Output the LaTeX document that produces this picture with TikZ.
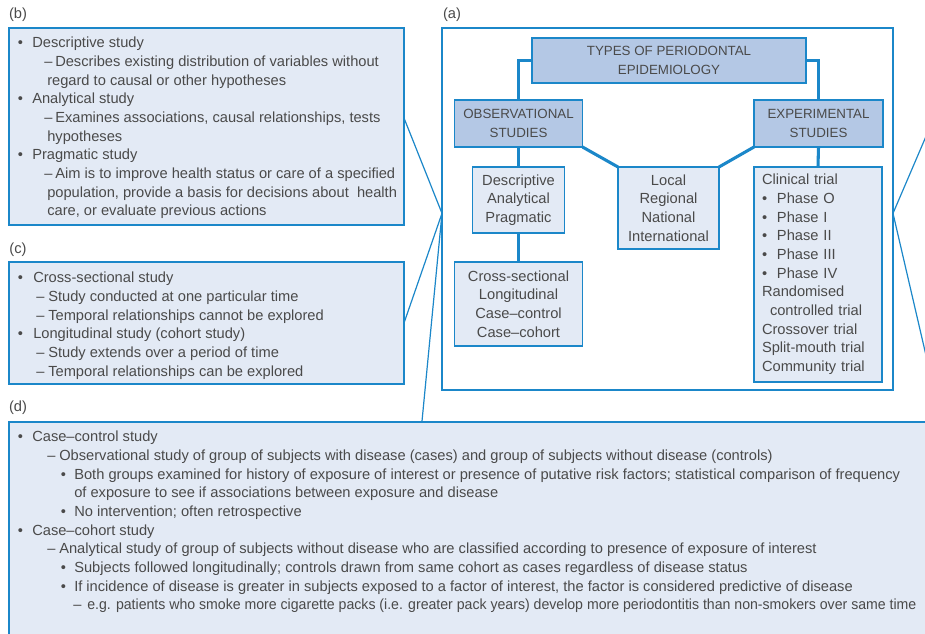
\documentclass[tikz,border=0pt]{standalone}
\usepackage{fontspec}
\usepackage{graphicx}
\setmainfont{Liberation Sans}
\usetikzlibrary{calc,backgrounds}
\definecolor{bl}{HTML}{1B87C9}
\definecolor{lf}{HTML}{E3EAF5}
\definecolor{mf}{HTML}{B4C8E5}
\definecolor{tx}{HTML}{4A4A4A}
\newlength\px \setlength\px{0.75pt}
\newcommand\Ind[3]{\hspace*{#1\px}\makebox[#2\px][l]{#3}}
\tikzset{
 box/.style={draw=bl, line width=1.1pt, fill=lf, inner sep=0pt, outer sep=0pt},
 hbox/.style={draw=bl, line width=1.1pt, fill=mf, text=tx, align=center, font=\fontsize{10pt}{14.2pt}\selectfont, inner sep=0pt, outer sep=0pt},
 lbox/.style={draw=bl, line width=1.1pt, fill=lf, text=tx, align=center, font=\fontsize{11pt}{14pt}\selectfont, inner sep=0pt, outer sep=0pt},
 body/.style={text=tx, align=left, font=\fontsize{11pt}{14pt}\selectfont, inner sep=0pt, anchor=north west},
 conn/.style={draw=bl, line width=2.3pt},
 call/.style={draw=bl, line width=0.9pt},
 lab/.style={text=tx, font=\fontsize{11pt}{14pt}\selectfont, inner sep=0pt},
}
\begin{document}
\begin{tikzpicture}[x=0.75pt,y=-0.75pt]
\useasboundingbox (0,0) rectangle (925,633);
\begin{scope}
\clip (0,0) rectangle (925,633);
% outer boxes
\node[box, minimum width=395\px, minimum height=197\px, anchor=north west] (b) at (9,28) {};
\node[box, minimum width=395\px, minimum height=122\px, anchor=north west] (c) at (9,262) {};
\node[box, minimum width=930\px, minimum height=230\px, anchor=north west] (d) at (9,422) {};
\node[draw=bl, line width=1pt, minimum width=451\px, minimum height=362\px, anchor=north west, inner sep=0pt, outer sep=0pt] (a) at (442,28) {};
% labels
\node[lab] (la) at (452,15) {(a)};
\node[lab] (lb) at (18,15) {(b)};
\node[lab] (lc) at (18,250) {(c)};
\node[lab] (ld) at (18,408) {(d)};
% (a) contents
\node[hbox, minimum width=274\px, minimum height=45\px] (title) at (669,60.5) {TYPES OF PERIODONTAL\\EPIDEMIOLOGY};
\node[hbox, minimum width=128\px, minimum height=47\px] (obs) at (518.5,123.5) {OBSERVATIONAL\\STUDIES};
\node[hbox, minimum width=129\px, minimum height=47\px] (exp) at (818.5,123.5) {EXPERIMENTAL\\STUDIES};
\node[lbox, minimum width=101\px, minimum height=82\px] (loc) at (668.5,208) {Local\\Regional\\National\\International};
\node[lbox, minimum width=92\px, minimum height=66\px] (desc) at (518.5,200) {Descriptive\\Analytical\\Pragmatic};
\node[lbox, minimum width=128\px, minimum height=84\px] (cross) at (518.5,304) {Cross-sectional\\Longitudinal\\Case–control\\Case–cohort};
\node[lbox, align=left, text width=112\px, inner xsep=8\px, minimum height=215\px] (clin) at (818,274.5) {Clinical trial\\
\Ind{0}{15}{•}Phase O\\
\Ind{0}{15}{•}Phase I\\
\Ind{0}{15}{•}Phase II\\
\Ind{0}{15}{•}Phase III\\
\Ind{0}{15}{•}Phase IV\\
Randomised\\
\hspace*{8\px}controlled trial\\
Crossover trial\\
Split-mouth trial\\
Community trial};
% connectors in (a)
\begin{scope}[on background layer]
\fill[white] (0,0) rectangle (925,633);
\draw[conn] (title.west) -| (obs.north);
\draw[conn] (title.east) -| (exp.north);
\draw[conn] (obs.south east) -- (loc.north west);
\draw[conn] (exp.south west) -- (loc.north east);
\draw[conn] (obs.south) -- (desc.north);
\draw[conn] (desc.south) -- (cross.north);
\draw[conn] (exp.south) -- (clin.north);
\end{scope}
% texts
\node[body] (bt) at (17.5,36.8) {\Ind{0}{14.5}{•}Descriptive study\\
\Ind{26.5}{11}{–}Describes existing distribution of variables without\\
\hspace*{29.5\px}regard to causal or other hypotheses\\
\Ind{0}{14.5}{•}Analytical study\\
\Ind{26.5}{11}{–}Examines associations, causal relationships, tests\\
\hspace*{29.5\px}hypotheses\\
\Ind{0}{14.5}{•}Pragmatic study\\
\Ind{26.5}{11}{–}Aim is to improve health status or care of a specified\\
\hspace*{29.5\px}population, provide a basis for decisions about \ health\\
\hspace*{29.5\px}care, or evaluate previous actions};
\node[body] (ct) at (17.5,271.8) {\Ind{0}{15.5}{•}Cross-sectional study\\
\Ind{18.5}{12}{–}Study conducted at one particular time\\
\Ind{18.5}{12}{–}Temporal relationships cannot be explored\\
\Ind{0}{15.5}{•}Longitudinal study (cohort study)\\
\Ind{18.5}{12}{–}Study extends over a period of time\\
\Ind{18.5}{12}{–}Temporal relationships can be explored};
\node[body] (dt) at (17.5,430.8) {\Ind{0}{14.5}{•}Case–control study\\
\Ind{29.5}{12}{–}Observational study of group of subjects with disease (cases) and group of subjects without disease (controls)\\
\Ind{43}{13.5}{•}Both groups examined for history of exposure of interest or presence of putative risk factors; statistical comparison of frequency\\
\hspace*{56.5\px}of exposure to see if associations between exposure and disease\\
\Ind{43}{13.5}{•}No intervention; often retrospective\\
\Ind{0}{14.5}{•}Case–cohort study\\
\Ind{29.5}{12}{–}Analytical study of group of subjects without disease who are classified according to presence of exposure of interest\\
\Ind{43}{13.5}{•}Subjects followed longitudinally; controls drawn from same cohort as cases regardless of disease status\\
\Ind{43}{13.5}{•}If incidence of disease is greater in subjects exposed to a factor of interest, the factor is considered predictive of disease\\
\Ind{55.5}{14}{–}\scalebox{0.962}[1]{e.g. patients who smoke more cigarette packs (i.e. greater pack years) develop more periodontitis than non-smokers over same time}};
% callout lines
\coordinate (pa) at ($(a.north west)!0.512!(a.south west)$);
\coordinate (pe) at ($(a.north east)!0.512!(a.south east)$);
\coordinate (pb) at ($(b.north east)!0.457!(b.south east)$);
\coordinate (pd) at ($(d.north west)!0.444!(d.north east)$);
\coordinate (e1) at (930,127);
\coordinate (e2) at (928,364);
\draw[call] (pb) -- (pa);
\draw[call] (c.east) -- (pa);
\draw[call] (pd) -- (pa);
\draw[call] (pe) -- (e1);
\draw[call] (pe) -- (e2);
\end{scope}
\end{tikzpicture}
\end{document}
